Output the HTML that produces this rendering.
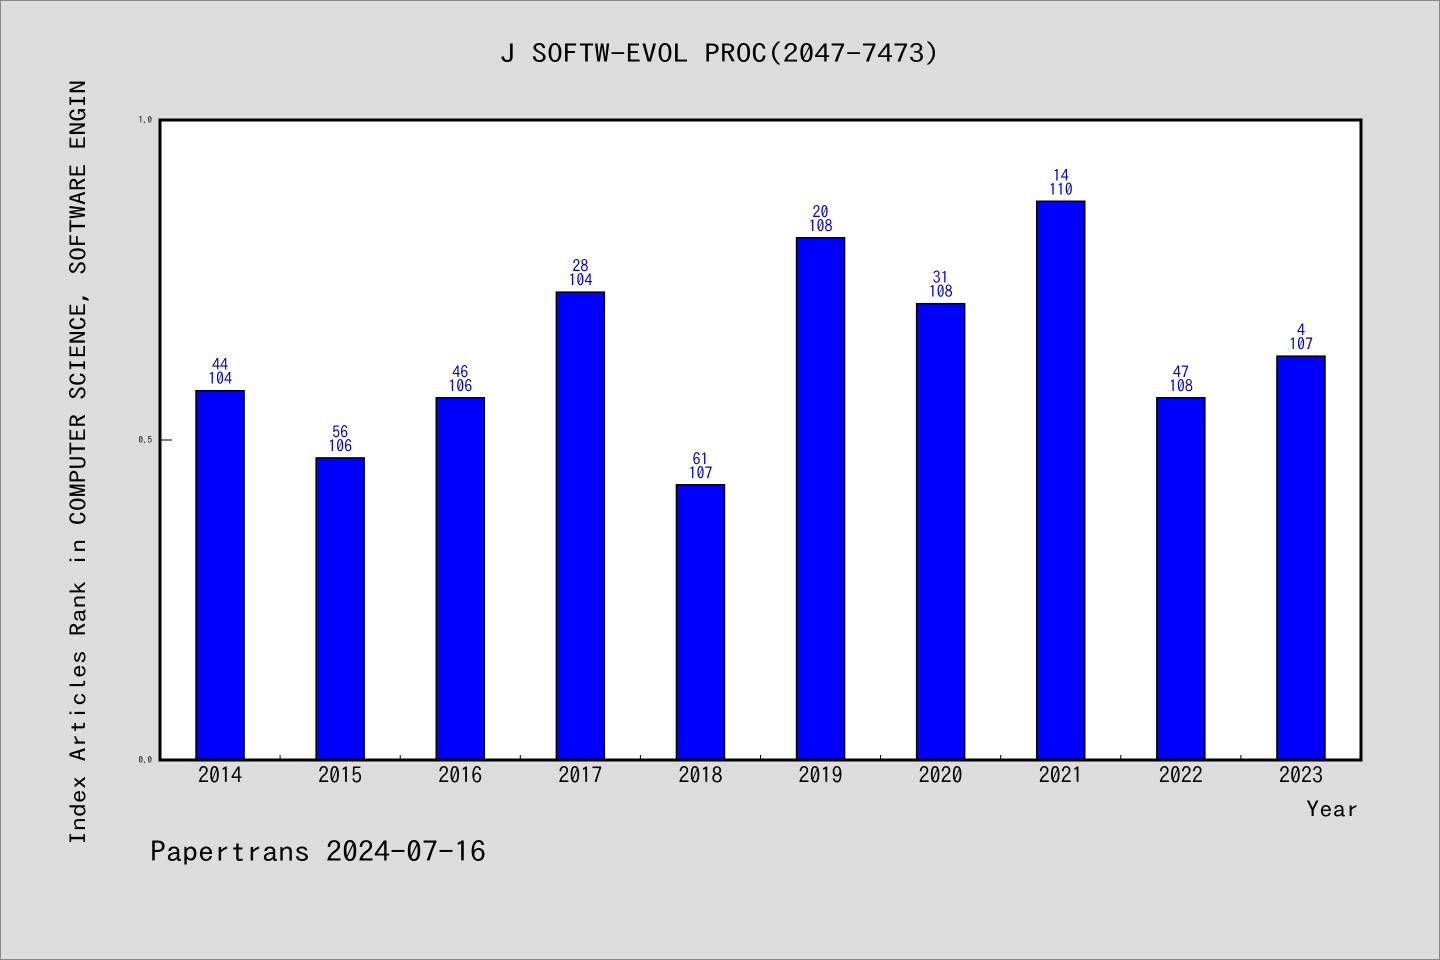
<!DOCTYPE html>
<html><head><meta charset="utf-8">
<style>
html,body{margin:0;padding:0;background:#dcdcdc;}
svg{display:block;font-family:"WenQuanYi Zen Hei Mono","WenQuanYi Zen Hei","IPAGothic","Noto Sans Mono CJK SC","Liberation Mono",monospace;}
</style></head>
<body>
<svg id="chart" width="1440" height="960" viewBox="0 0 1440 960">
<rect x="0.5" y="0.5" width="1439" height="959" fill="#dcdcdc" stroke="#888"/>
<text x="500" y="63" font-size="26" textLength="440" lengthAdjust="spacingAndGlyphs" fill="#000">J SOFTW-EVOL PROC(2047-7473)</text>
<rect x="160" y="120" width="1201" height="640" fill="#fff"/>
<g id="bars"></g>
<g id="axes"></g>
<rect x="160" y="120" width="1201" height="640" fill="none" stroke="#000" stroke-width="3"/>
<text x="86" y="845" font-size="22" textLength="765" lengthAdjust="spacingAndGlyphs" transform="rotate(-90 86 845)" fill="#000">Index Articles Rank in COMPUTER SCIENCE, SOFTWARE ENGIN</text>
<text x="1306" y="817" font-size="22" textLength="53" lengthAdjust="spacingAndGlyphs" fill="#000">Year</text>
<text x="150" y="862" font-size="28" textLength="336" lengthAdjust="spacingAndGlyphs" fill="#000">Papertrans 2024-07-16</text>
</svg>
<script>
const years = ["2014","2015","2016","2017","2018","2019","2020","2021","2022","2023"];
const values = [0.577,0.472,0.566,0.731,0.430,0.816,0.713,0.873,0.566,0.631];
const ranks = [44,56,46,28,61,20,31,14,47,4];
const totals = [104,106,106,104,107,108,108,110,108,107];
const yTicks = [0.0,0.5,1.0];
const yTickLabels = ["0.0","0.5","1.0"];

const NS="http://www.w3.org/2000/svg";
const X0=160,X1=1361,Y0=760,Y1=120;
const step=(X1-X0)/years.length;
const xc=i=>X0+step*(i+0.5);
const ys=v=>Y0-(Y0-Y1)*v;
function mk(tag,attrs,parent){const e=document.createElementNS(NS,tag);for(const k in attrs)e.setAttribute(k,attrs[k]);parent.appendChild(e);return e;}
const bars=document.getElementById('bars'),axes=document.getElementById('axes');
years.forEach((y,i)=>{
  const top=ys(values[i]);
  const r=mk('rect',{x:xc(i)-24,y:top,width:48,height:Y0-top,fill:'#0000ff',stroke:'#000','stroke-width':1.5},bars);
  
  
  const t1=mk('text',{x:xc(i),y:top-20,'font-size':16,'text-anchor':'middle',fill:'#0000cc'},bars);
  t1.textContent=ranks[i];
  
  
  const t2=mk('text',{x:xc(i),y:top-6,'font-size':16,'text-anchor':'middle',fill:'#0000cc'},bars);
  t2.textContent=totals[i];
  
  
  const xl=mk('text',{x:xc(i),y:783,'font-size':22,'text-anchor':'middle',fill:'#000'},axes);
  xl.textContent=y;
  
  
  if(i>0){
    const tk=mk('line',{x1:X0+step*i,x2:X0+step*i,y1:Y0,y2:Y0-5,stroke:'#000','stroke-width':1},axes);
    
    
  }
});
yTicks.forEach((v,i)=>{
  const tk=mk('line',{x1:X0,x2:X0+12,y1:ys(v),y2:ys(v),stroke:'#000','stroke-width':1},axes);
  
  
  const tl=mk('text',{x:152,y:ys(v)+3,'font-size':9,'text-anchor':'end',fill:'#000'},axes);
  tl.textContent=yTickLabels[i];
  
  
});
</script>
</body></html>
